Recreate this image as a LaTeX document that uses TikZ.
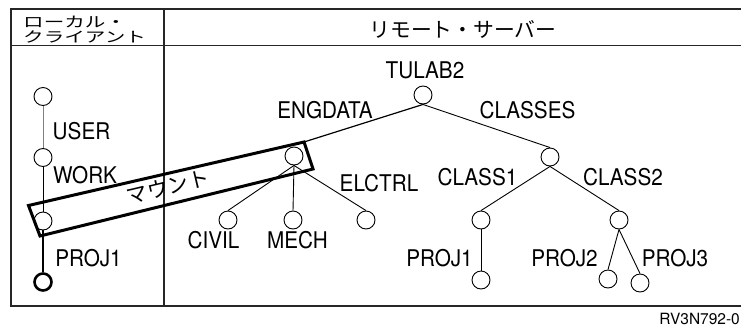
\documentclass[tikz,border=0pt]{standalone}
\usepackage{fontspec}
\setmainfont{TeX Gyre Heros}[FakeStretch=0.9]
\newfontfamily\plainsans{TeX Gyre Heros}
\newfontfamily\cjk{Noto Sans CJK JP}
\newfontfamily\cjkwide{Noto Sans CJK JP}[FakeStretch=1.42]
\begin{document}
\begin{tikzpicture}[x=1pt,y=-1pt,
  circ/.style={circle, draw, minimum size=18pt, inner sep=0pt, line width=0.9pt},
  lbl/.style={anchor=base, inner sep=0pt, font=\fontsize{23}{26}\selectfont},
  edge/.style={line width=0.9pt},
  frame/.style={line width=1.1pt, black!85},
  mountbox/.style={line width=3pt, line join=miter}]
\useasboundingbox (0,0) rectangle (741,327);
% frame
\draw[frame] (741,9) -- (11,9) -- (11,306) -- (741,306);
\draw[frame] (11,45.5) -- (741,45.5);
\draw[frame] (164,9) -- (164,306);
% headers
\node[anchor=base west, inner sep=0pt, font=\cjkwide\fontsize{14.5}{16}\selectfont] (h1) at (23,27.6) {ローカル・};
\node[anchor=base west, inner sep=0pt, font=\cjkwide\fontsize{14.5}{16}\selectfont] (h2) at (23,42) {クライアント};
\node[anchor=base, inner sep=0pt, font=\cjk\fontsize{20.8}{24}\selectfont] (h3) at (463,37.3) {リモート・サーバー};
% local tree
\node[circ] (l1) at (43,96.5) {};
\node[circ] (l2) at (43,157.5) {};
\node[circ] (l3) at (43,221) {};
\node[circ, line width=2.6pt, minimum size=17pt] (l4) at (43,282) {};
\draw[edge, gray] (l1.south) -- (l2.north);
\draw[edge] (l2.south) -- (l3.north);
\draw[line width=2.6pt] (l3.south) -- (l4.north);
\node[lbl] (uU) at (81.5,139.5) {USER};
\node[lbl] (uW) at (85,183) {WORK};
\node[lbl] (uP) at (88.5,266.7) {PROJ1};
% remote tree
\node[circ] (t) at (423,95) {};
\node[circ] (eng) at (294,156) {};
\node[circ] (cls) at (550,157) {};
\node[circ] (civ) at (228,220) {};
\node[circ] (mech) at (293,220) {};
\node[circ] (elc) at (366,220) {};
\node[circ] (c1) at (481,220) {};
\node[circ] (c2) at (619,220) {};
\node[circ] (p1) at (481,280) {};
\node[circ] (p2) at (608,279) {};
\node[circ] (p3) at (640,283) {};
% mount box
\coordinate (bTL) at (28.5,205.5);
\coordinate (bTR) at (304,142);
\coordinate (bBR) at (313,169);
\coordinate (bBL) at (40,236);
\draw[mountbox] (bTL) -- (bTR) -- (bBR) -- (bBL) -- cycle;
\node[rotate=13.3, inner sep=0pt, font=\cjk\fontsize{21}{24}\selectfont] (mt) at (168,187) {マウント};
% edges
\draw[line width=1.2pt] (t.south) -- (bTR);
\draw[edge] (t.south) -- (cls.north);
\draw[edge] (eng.south) -- (civ.north);
\draw[edge] (eng.south) -- (mech.north);
\draw[edge] (eng.south) -- (elc.north);
\draw[edge] (cls.south) -- (c1.north);
\draw[edge] (cls.south) -- (c2.north);
\draw[edge] (c1.south) -- (p1.north);
\draw[edge] (c2.south) -- (p2.north);
\draw[edge] (c2.south) -- (p3.north);
% labels
\node[lbl] (tT) at (425,78) {TULAB2};
\node[lbl] (tE) at (325,118) {ENGDATA};
\node[lbl] (tC) at (527.5,118) {CLASSES};
\node[lbl] (tEL) at (379,191.5) {ELCTRL};
\node[lbl] (tC1) at (477.5,185) {CLASS1};
\node[lbl] (tC2) at (623,185) {CLASS2};
\node[lbl] (tCI) at (213.5,248) {CIVIL};
\node[lbl] (tM) at (297.5,248) {MECH};
\node[lbl] (tP1) at (439.5,266.7) {PROJ1};
\node[lbl] (tP2) at (564.5,266.7) {PROJ2};
\node[lbl] (tP3) at (675,266.7) {PROJ3};
\node[anchor=base east, inner sep=0pt, font=\plainsans\fontsize{15.5}{18}\selectfont] (rv) at (740,324.5) {RV3N792-0};
\end{tikzpicture}
\end{document}
